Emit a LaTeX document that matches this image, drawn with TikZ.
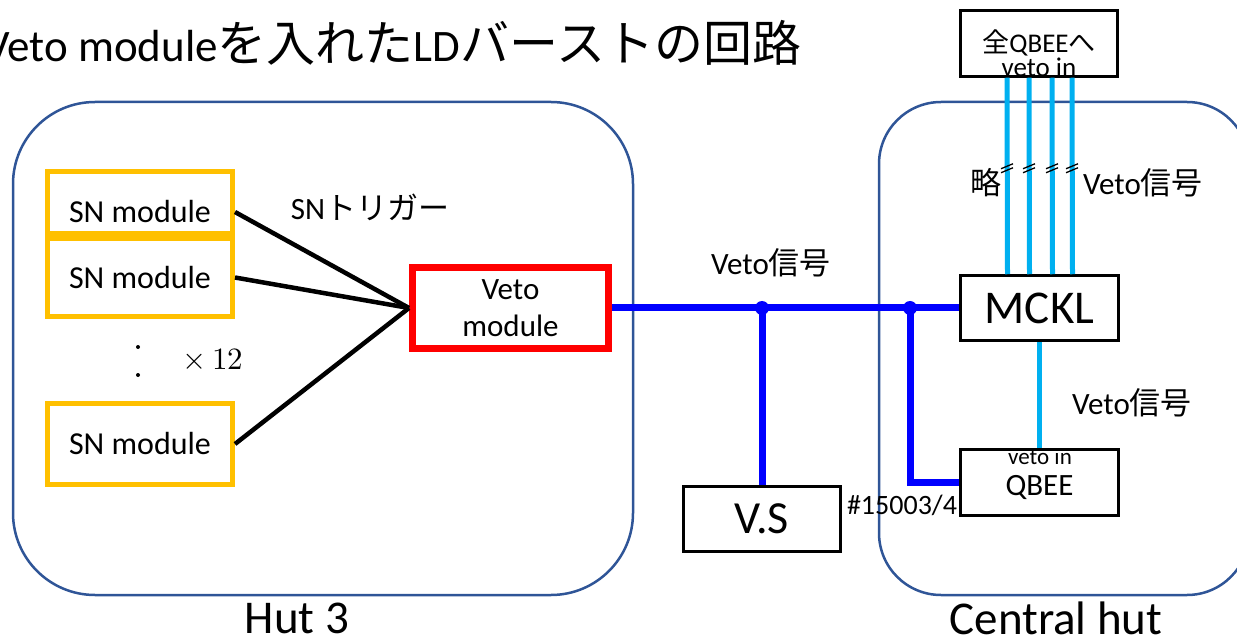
\documentclass[tikz,border=0pt]{standalone}
\usepackage{fontspec}
\usepackage{unicode-math}
\setmainfont{Carlito}
\setmathfont{Latin Modern Math}
\newfontfamily\jp{Noto Sans CJK JP}
\usepackage{tikz}
\usetikzlibrary{calc}

\definecolor{hutblue}{HTML}{2F5597}
\definecolor{snorange}{HTML}{FFC000}
\definecolor{vetored}{HTML}{FF0000}
\definecolor{vetoblue}{HTML}{0000FF}
\definecolor{sigblue}{HTML}{00B0F0}

\newcommand{\fsz}[2]{\fontsize{#1pt}{#2pt}\selectfont}
\newcommand{\vetosig}{Veto{\jp 信号}}

\begin{document}
\begin{tikzpicture}[x=1pt,y=-1pt,
        hut/.style={draw=hutblue, line width=2.5pt},
        snbox/.style={draw=snorange, line width=5pt, minimum width=185pt, inner sep=0pt, font=\fsz{32}{37}},
        plainbox/.style={draw=black, line width=2.5pt, inner sep=0pt},
        trigline/.style={black, line width=4.5pt},
        vetoline/.style={vetoblue, line width=7pt},
        sigline/.style={sigblue, line width=5pt},
        lbl/.style={font=\fsz{31}{37}}]
        \useasboundingbox (0,0) rectangle (1237,644);

        %% huts
        \draw[hut, rounded corners=82pt] (13,102) rectangle (633,595);
        \draw[hut, rounded corners=62pt] (879,102) rectangle (1249,595);
        \node[font=\fsz{47}{47}] (hut3) at (297,618) {Hut 3};
        \node[font=\fsz{47}{47}] (central) at (1056,618) {Central hut};

        \node[font=\fsz{45}{45}, anchor=base west, inner sep=0pt] (title) at (-16,62)
                {Veto module{\jp\fsz{49}{49}を入れた}LD{\jp\fsz{49}{49}バーストの回路}};

        %% Hut 3 side
        \begin{scope}[every node/.style={snbox}]
                \node[minimum height=62pt, text height=40pt, text depth=0pt] (sn1) at (140,202.5) {SN module};
                \node[minimum height=78pt] (sn2) at (140,277.5) {SN module};
                \node[minimum height=81pt] (sn3) at (140,444) {SN module};
        \end{scope}
        \fill (138,347) circle (2);
        \fill (138,375) circle (2);
        \node[lbl] (times) at (213,359) {$\times$\,$12$};

        \node[draw=vetored, line width=7pt, minimum width=196pt, minimum height=81pt,
              align=center, font=\fsz{31}{37}] (veto) at (510.5,308) {Veto\\module};
        \node[lbl] (trig) at (370,207) {SN{\jp トリガー}};

        \draw[trigline] ($(sn1.east)+(0,9.5)$) -- (veto.west);
        \draw[trigline] (sn2.east) -- (veto.west);
        \draw[trigline] (sn3.east) -- (veto.west);

        %% Central hut side
        \node[plainbox, minimum width=158pt, minimum height=65pt, font=\fsz{47}{47}] (mckl) at (1039.5,308) {MCKL};
        \node[plainbox, minimum width=158pt, minimum height=66pt, font=\fsz{31}{31}, text height=26pt, text depth=0pt] (qbee) at (1039.5,482.5) {QBEE};
        \node[font=\fsz{23}{23}, inner sep=0pt] (qbeein) at (1040,457) {veto in};
        \node[plainbox, minimum width=157pt, minimum height=66pt] (allq) at (1039,43.5) {};
        \node[align=center, font=\fsz{27}{24}, inner sep=0pt] (allqtxt) at (1039,53) {{\jp 全}QBEE{\jp へ}\\veto in};
        \node[plainbox, minimum width=157pt, minimum height=65pt, font=\fsz{46}{46}] (vs) at (762,519) {V.S};

        \node[lbl] (sig1) at (771,263) {\vetosig};
        \node[lbl] (sig2) at (1143,183) {\vetosig};
        \node[lbl] (sig3) at (1132,403) {\vetosig};
        \node[lbl] (ryaku) at (986,183) {\jp 略};
        \node[font=\fsz{28}{28}] (vsnum) at (902,505) {\#15003/4};

        %% signal lines
        \coordinate (j1) at (vs.north |- veto.east);
        \coordinate (j2) at (910,308);
        \draw[vetoline] (veto.east) -- (mckl.west);
        \draw[vetoline] (j1) -- (vs.north);
        \draw[vetoline] (j2) |- (qbee.west);
        \fill[vetoblue] (j1) circle (7);
        \fill[vetoblue] (j2) circle (7);

        \draw[sigline] (mckl.south) -- (qbee.north);
        \foreach \dx in {-32,-10,13,33}
        {
                \draw[sigline] ([xshift=\dx]allq.south) -- ([xshift=\dx]mckl.north);
                \draw[black, line width=1.3pt] ($(allq.south)+(\dx-6,172-77)$) -- ++(12,-5);
                \draw[black, line width=1.3pt] ($(allq.south)+(\dx-6,168-77)$) -- ++(12,-5);
        }

\end{tikzpicture}
\end{document}
